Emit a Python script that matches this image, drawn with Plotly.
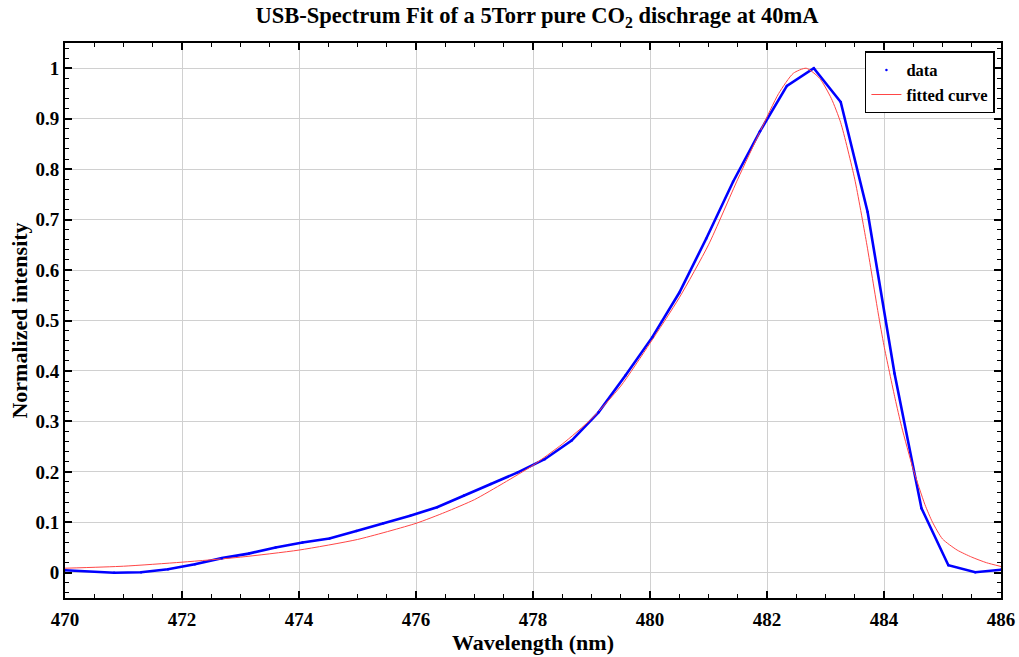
import plotly.graph_objects as go

# Measured spectrum (normalized)
wl_data = [470.00, 470.84, 471.30, 471.76, 472.22, 472.68, 473.14, 473.60, 474.06,
           474.52, 474.98, 475.44, 475.90, 476.36, 476.82, 477.28, 477.74, 478.20,
           478.66, 479.12, 479.58, 480.04, 480.50, 480.96, 481.42, 481.88, 482.34,
           482.80, 483.26, 483.72, 484.18, 484.64, 485.10, 485.56, 486.00]
int_data = [0.005, 0.000, 0.001, 0.007, 0.017, 0.029, 0.038, 0.050, 0.060,
            0.068, 0.083, 0.098, 0.113, 0.130, 0.153, 0.176, 0.199, 0.225,
            0.262, 0.318, 0.391, 0.467, 0.555, 0.662, 0.775, 0.875, 0.965,
            1.000, 0.933, 0.715, 0.395, 0.128, 0.015, 0.001, 0.006]

# Fitted line shape
wl_fit = [470.0, 471.0, 472.0, 473.0, 474.0, 475.0, 476.0, 476.5, 477.0, 477.5,
          478.0, 478.5, 479.0, 479.5, 480.0, 480.5, 481.0, 481.5, 481.9, 482.2,
          482.45, 482.67, 482.9, 483.1, 483.26, 483.5, 483.7, 483.9, 484.0, 484.19,
          484.3, 484.5, 484.7, 484.83, 485.0, 485.25, 485.5, 485.75, 486.0]
int_fit = [0.009, 0.013, 0.021, 0.031, 0.045, 0.066, 0.098, 0.120, 0.145, 0.178,
           0.213, 0.255, 0.305, 0.370, 0.455, 0.545, 0.650, 0.780, 0.879, 0.950,
           0.990, 1.000, 0.980, 0.940, 0.892, 0.780, 0.655, 0.515, 0.450, 0.345,
           0.290, 0.205, 0.135, 0.100, 0.067, 0.045, 0.031, 0.020, 0.0125]

x_ticks = [470, 472, 474, 476, 478, 480, 482, 484, 486]
y_ticks = [0, 0.1, 0.2, 0.3, 0.4, 0.5, 0.6, 0.7, 0.8, 0.9, 1]
y_tick_text = ["0", "0.1", "0.2", "0.3", "0.4", "0.5", "0.6", "0.7", "0.8", "0.9", "1"]

FONT = "Liberation Serif"

fig = go.Figure()

# data line (drawn without its own legend entry)
fig.add_trace(go.Scatter(
    x=wl_data, y=int_data, mode="lines",
    line=dict(color="rgb(0,0,255)", width=2.6),
    showlegend=False, hoverinfo="skip",
))
# fitted curve
fig.add_trace(go.Scatter(
    x=wl_fit, y=int_fit, mode="lines", name="fitted curve",
    line=dict(color="rgb(255,70,70)", width=1, shape="spline", smoothing=0.6),
))
# data points
fig.add_trace(go.Scatter(
    x=wl_data, y=int_data, mode="markers", name="data",
    marker=dict(color="rgb(0,0,255)", size=2.5),
))

axis_common = dict(
    showline=True, linecolor="black", linewidth=2, mirror="allticks",
    ticks="inside", ticklen=7, tickwidth=1.5, tickcolor="black",
    showgrid=True, gridcolor="rgb(208,208,208)", gridwidth=1.4,
    zeroline=False, automargin=False,
    tickfont=dict(family=FONT, size=19, color="black", weight="bold"),
)

fig.update_xaxes(
    range=[470, 486], tickvals=x_ticks, ticklabelstandoff=3,
    minor=dict(dtick=0.5, ticks="inside", ticklen=4, tickwidth=1.2,
               tickcolor="black", showgrid=False),
    title=dict(text="Wavelength (nm)", standoff=0,
               font=dict(family=FONT, size=22, color="black", weight="bold")),
    **axis_common,
)
fig.update_yaxes(
    range=[-0.05, 1.05], tickvals=y_ticks, ticktext=y_tick_text,
    minor=dict(dtick=0.02, tick0=0, ticks="inside", ticklen=4, tickwidth=1.2,
               tickcolor="black", showgrid=False),
    title=dict(text="Normalized intensity", standoff=2,
               font=dict(family=FONT, size=22, color="black", weight="bold")),
    **axis_common,
)

fig.update_layout(
    width=1019, height=657,
    margin=dict(l=65, r=18, t=43, b=59),
    paper_bgcolor="white", plot_bgcolor="white",
    title=dict(text="USB-Spectrum Fit of a 5Torr pure CO<sub>2</sub> dischrage at 40mA",
               x=0.527, xanchor="center", y=0.989, yanchor="top",
               font=dict(family=FONT, size=22.5, color="black", weight="bold")),
    legend=dict(x=0.9935, y=0.985, xanchor="right", yanchor="top",
                bgcolor="white", bordercolor="black", borderwidth=1.5,
                traceorder="reversed",
                font=dict(family=FONT, size=16.5, color="black", weight="bold"),
                itemwidth=30, tracegroupgap=0),
    showlegend=True,
)

fig.write_html("out.html")
